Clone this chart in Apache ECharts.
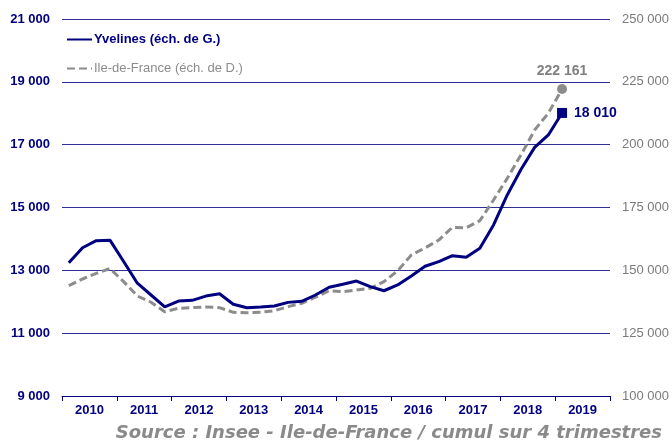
<!DOCTYPE html>
<html>
<head>
<meta charset="utf-8">
<script src="https://cdn.jsdelivr.net/npm/echarts@6/dist/echarts.min.js"></script>
<style>html,body{margin:0;padding:0;background:#fff}#c{width:672px;height:442px}</style>
</head>
<body>
<div id="c"></div>
<script>
const years = ['2010','2011','2012','2013','2014','2015','2016','2017','2018','2019'];
const quarterSuffixes = ['T1','T2','T3','T4'];
const yvelines = [13240, 13720, 13945, 13960, 13280, 12590, 12215, 11840, 12020, 12045, 12180, 12255, 11920, 11810, 11830, 11865, 11980, 12015, 12215, 12460, 12555, 12660, 12480, 12350, 12535, 12820, 13130, 13275, 13465, 13415, 13700, 14445, 15400, 16210, 16915, 17310, 18010];
const idf = [143900, 146550, 148800, 150700, 145500, 139800, 137300, 133550, 134900, 135150, 135400, 135150, 133300, 133150, 133300, 133950, 135550, 136900, 139300, 141900, 141500, 142200, 142850, 145500, 149850, 156100, 158900, 162050, 167100, 166950, 169750, 178000, 186600, 195900, 205850, 212500, 222161];
const leftTicks = {min: 9000, max: 21000, interval: 2000};
const rightTicks = {min: 100000, max: 250000, interval: 25000};
const seriesNames = ['Yvelines (éch. de G.)', 'Ile-de-France (éch. de D.)'];
const sourceText = 'Source : Insee - Ile-de-France / cumul sur 4 trimestres';

const quarters = [];
years.forEach(y => quarterSuffixes.forEach(q => quarters.push(y + q)));

const NAVY = '#000080', GREY = '#8c8c8c', GRID = '#2e2e94';
const fmt = v => String(v).replace(/\B(?=(\d{3})+(?!\d))/g, ' ');
const FONT = 'Liberation Sans';

function withLast(arr, opts) {
  return arr.map((v, i) => i === arr.length - 1 ? Object.assign({value: v}, opts) : v);
}

const chart = echarts.init(document.getElementById('c'), null, {renderer: 'canvas'});
chart.setOption({
  animation: false,
  textStyle: {fontFamily: FONT},
  title: {
    text: sourceText, right: 5, top: 419,
    textStyle: {fontFamily: 'DejaVu Sans', fontSize: 18, fontStyle: 'italic', fontWeight: 'bold', color: '#8a8a8a'}
  },
  legend: {
    orient: 'vertical', left: 61, top: 28, itemGap: 16, itemWidth: 25, itemHeight: 14,
    itemStyle: {opacity: 0},
    data: [
      {name: seriesNames[0], textStyle: {color: NAVY, fontWeight: 'bold', fontSize: 13}},
      {name: seriesNames[1], textStyle: {color: GREY, fontWeight: 'normal', fontSize: 13}}
    ],
    textStyle: {fontFamily: FONT, padding: [0, 0, 0, -3]}
  },
  grid: {left: 62, right: 62, top: 19, bottom: 46, containLabel: false},
  xAxis: [
    {
      type: 'category', data: years, boundaryGap: true, position: 'bottom',
      axisLine: {show: true, lineStyle: {color: NAVY, width: 1}},
      axisTick: {show: true, length: 5, alignWithLabel: false, lineStyle: {color: NAVY}},
      axisLabel: {color: NAVY, fontWeight: 'bold', fontSize: 13, margin: 8, fontFamily: FONT},
      splitLine: {show: false}
    },
    {
      type: 'category', data: quarters, boundaryGap: true, show: false, position: 'bottom'
    }
  ],
  yAxis: [
    {
      type: 'value', position: 'left', min: leftTicks.min, max: leftTicks.max, interval: leftTicks.interval,
      axisLine: {show: false}, axisTick: {show: false},
      axisLabel: {color: NAVY, fontWeight: 'bold', fontSize: 13, margin: 12, formatter: fmt, fontFamily: FONT},
      splitLine: {show: true, lineStyle: {color: GRID, width: 1}}
    },
    {
      type: 'value', position: 'right', min: rightTicks.min, max: rightTicks.max, interval: rightTicks.interval,
      axisLine: {show: false}, axisTick: {show: false},
      axisLabel: {color: '#7a7a7a', fontSize: 13, margin: 12, formatter: fmt, fontFamily: FONT},
      splitLine: {show: false}
    }
  ],
  series: [
    {
      name: seriesNames[1], type: 'line', xAxisIndex: 1, yAxisIndex: 1,
      symbol: 'none', smooth: false, z: 2,
      lineStyle: {color: GREY, width: 3, type: [8, 4]},
      itemStyle: {color: GREY},
      data: withLast(idf, {
        symbol: 'circle', symbolSize: 10,
        itemStyle: {opacity: 1},
        label: {show: true, position: 'top', distance: 6, color: '#808080', fontWeight: 'bold', fontSize: 14,
          fontFamily: FONT, formatter: p => fmt(p.value)}
      })
    },
    {
      name: seriesNames[0], type: 'line', xAxisIndex: 1, yAxisIndex: 0,
      symbol: 'none', smooth: false, z: 3,
      lineStyle: {color: NAVY, width: 3},
      itemStyle: {color: NAVY},
      data: withLast(yvelines, {
        symbol: 'rect', symbolSize: 10,
        itemStyle: {opacity: 1},
        label: {show: true, position: 'right', distance: 7, color: NAVY, fontWeight: 'bold', fontSize: 14,
          fontFamily: FONT, formatter: p => fmt(p.value)}
      })
    }
  ]
});
</script>
</body>
</html>
